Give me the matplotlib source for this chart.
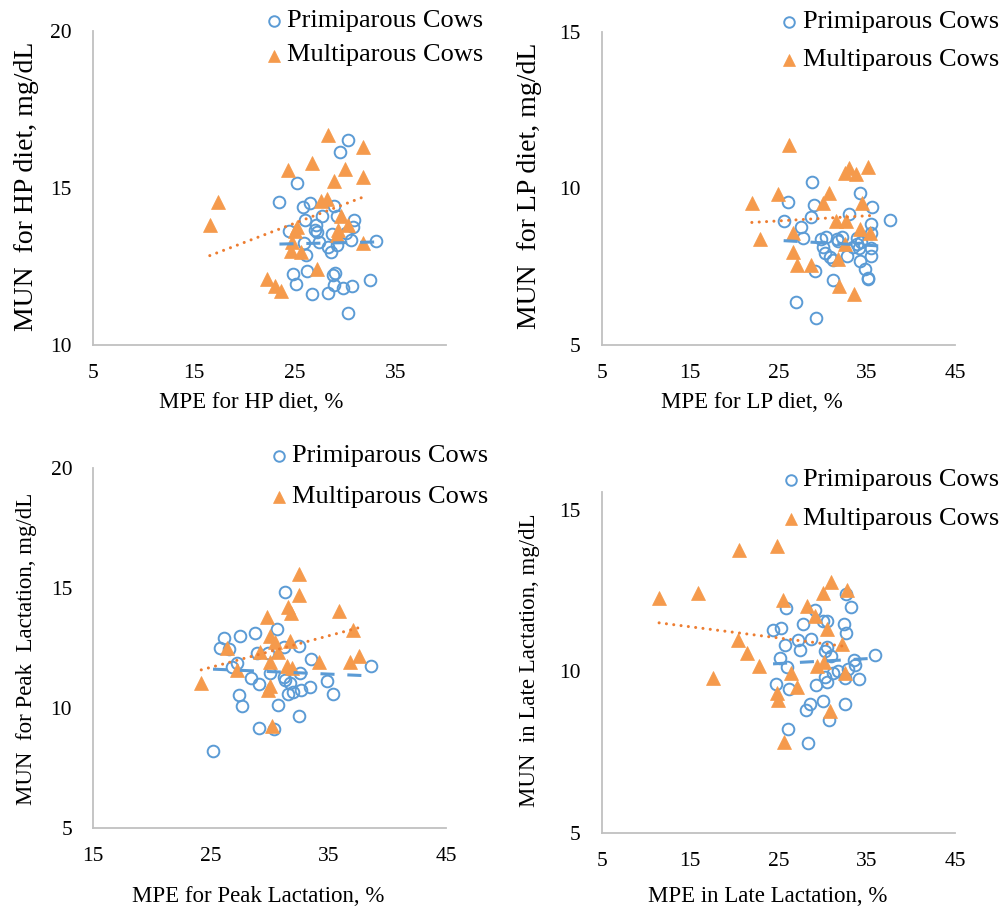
import numpy as np
import matplotlib
matplotlib.use("Agg")
import matplotlib.pyplot as plt
from matplotlib.lines import Line2D

plt.rcParams['font.family'] = ['Liberation Serif', 'DejaVu Serif']

# ---------------- data ----------------
# Panel 1: HP diet
hp_prim_x = [30.3, 29.5, 25.2, 23.5, 25.8, 26.5, 28.9, 26.0, 27.7, 27.1, 27.0, 27.2, 29.2, 30.9, 30.8,
             24.4, 28.7, 30.1, 30.6, 25.9, 27.4, 28.3, 28.6, 26.1, 33.1, 29.2, 24.8, 26.2, 29.0, 28.8,
             25.1, 28.9, 29.8, 30.7, 32.5, 26.7, 28.3, 30.3]
hp_prim_y = [16.53, 16.15, 15.15, 14.55, 14.38, 14.51, 14.43, 13.98, 14.11, 13.82, 13.66, 13.61, 14.11, 13.98, 13.75,
             13.64, 13.52, 13.56, 13.34, 13.24, 13.29, 13.13, 12.96, 12.87, 13.32, 13.18, 12.26, 12.37, 12.30, 12.22,
             11.94, 11.91, 11.80, 11.89, 12.07, 11.63, 11.65, 11.03]
hp_multi_x = [28.3, 31.8, 26.7, 24.3, 30.0, 28.9, 31.8, 17.4, 27.6, 28.2, 16.6, 29.6, 25.2, 30.3, 29.3,
              29.2, 25.0, 24.7, 31.8, 24.6, 25.6, 27.2, 22.3, 23.1, 23.7]
hp_multi_y = [16.69, 16.30, 15.81, 15.57, 15.59, 15.23, 15.36, 14.56, 14.60, 14.64, 13.81, 14.11, 13.77, 13.81, 13.66,
              13.50, 13.64, 13.29, 13.26, 13.00, 12.97, 12.43, 12.11, 11.88, 11.73]
hp_prim_trend = [0.007, 13.05]      # slope, intercept
hp_multi_trend = [0.1227, 10.81]

# Panel 2: LP diet
lp_prim_x = [28.85, 26.1, 29.0, 34.2, 35.6, 33.0, 28.7, 25.6, 37.6, 27.6, 35.5, 35.5, 27.8, 29.8, 30.4,
             31.6, 32.2, 33.9, 30.0, 30.3, 30.8, 31.2, 31.8, 32.8, 34.1, 34.4, 35.5, 35.5, 34.2, 34.8,
             35.2, 35.1, 29.1, 31.2, 27.0, 29.3, 33.9, 33.4]
lp_prim_y = [10.21, 9.55, 9.47, 9.84, 9.39, 9.18, 9.10, 8.96, 8.99, 8.78, 8.86, 8.56, 8.40, 8.37, 8.44,
             8.37, 8.44, 8.40, 8.14, 7.95, 7.82, 7.71, 8.33, 7.84, 8.09, 8.30, 8.09, 7.84, 7.69, 7.41,
             7.13, 7.10, 7.37, 7.07, 6.38, 5.87, 8.22, 8.12]
lp_multi_x = [26.2, 35.2, 33.0, 32.5, 33.8, 25.0, 22.0, 30.7, 30.1, 34.5, 31.5, 32.7, 34.2, 35.4, 22.9,
              26.7, 32.5, 26.7, 27.1, 28.7, 31.7, 31.9, 33.6]
lp_multi_y = [11.38, 10.67, 10.66, 10.48, 10.46, 9.81, 9.54, 9.86, 9.52, 9.54, 8.97, 8.97, 8.69, 8.56, 8.37,
              8.56, 8.21, 7.96, 7.55, 7.55, 7.73, 6.88, 6.63]
lp_prim_trend = [-0.0155, 8.727]
lp_multi_trend = [0.0163, 8.553]

# Panel 3: Peak lactation
pk_prim_x = [31.3, 30.6, 26.1, 27.5, 28.8, 25.8, 26.6, 28.9, 29.9, 31.2, 32.5, 27.2, 26.8, 33.5, 30.0,
             32.6, 38.6, 28.4, 29.1, 31.2, 31.7, 31.3, 27.4, 34.9, 31.6, 32.0, 32.7, 33.4, 35.4, 27.7,
             30.7, 32.5, 29.1, 30.4, 25.2]
pk_prim_y = [14.82, 13.28, 12.91, 13.00, 13.11, 12.49, 12.45, 12.28, 12.28, 12.53, 12.60, 11.89, 11.69, 12.05, 11.48,
             11.45, 11.77, 11.27, 11.01, 11.28, 11.06, 11.17, 10.53, 11.12, 10.59, 10.66, 10.76, 10.87, 10.59, 10.09,
             10.12, 9.67, 9.19, 9.12, 8.22]
pk_multi_x = [32.5, 32.5, 31.6, 31.8, 35.9, 29.8, 30.0, 30.5, 31.7, 37.1, 26.4, 29.2, 30.7, 30.0, 31.5,
              31.9, 34.2, 36.8, 37.6, 27.2, 24.2, 30.0, 29.9, 30.2]
pk_multi_y = [15.58, 14.71, 14.22, 13.97, 14.02, 13.81, 12.98, 12.77, 12.81, 13.25, 12.49, 12.32, 12.32, 11.91, 11.77,
              11.66, 11.93, 11.93, 12.17, 11.59, 11.03, 10.92, 10.76, 9.27]
pk_prim_trend = [-0.0209, 12.147]
pk_multi_trend = [0.131, 8.42]

# Panel 4: Late lactation
lt_prim_x = [25.9, 29.2, 32.7, 33.2, 30.0, 30.5, 27.8, 32.4, 24.4, 25.3, 32.7, 27.2, 28.7, 25.8, 27.4,
             30.5, 30.3, 31.0, 25.2, 35.9, 33.6, 33.7, 26.0, 32.9, 31.7, 31.2, 30.3, 32.6, 34.1, 30.5,
             29.3, 24.7, 26.2, 28.6, 28.1, 30.1, 32.5, 30.7, 26.1, 28.4]
lt_prim_y = [11.95, 11.90, 12.40, 11.98, 11.56, 11.56, 11.46, 11.48, 11.28, 11.33, 11.20, 10.96, 11.01, 10.83, 10.66,
             10.75, 10.63, 10.47, 10.42, 10.52, 10.36, 10.21, 10.15, 10.08, 10.00, 9.95, 9.84, 9.79, 9.76, 9.66,
             9.58, 9.61, 9.46, 8.99, 8.79, 9.08, 9.00, 8.51, 8.21, 7.77]
lt_multi_x = [24.9, 20.6, 31.0, 32.8, 30.0, 11.5, 15.9, 25.5, 28.2, 29.1, 30.5, 32.2, 20.4, 21.5, 22.8,
              17.6, 29.4, 30.2, 26.4, 32.6, 27.1, 24.8, 25.0, 30.8, 25.6]
lt_multi_y = [13.88, 13.75, 12.76, 12.52, 12.44, 12.27, 12.42, 12.21, 12.03, 11.72, 11.30, 10.85, 10.97, 10.57, 10.16,
              9.79, 10.18, 10.28, 9.95, 9.95, 9.53, 9.32, 9.11, 8.77, 7.83]
lt_prim_trend = [0.0152, 9.862]
lt_multi_trend = [-0.0346, 11.90]

legend_labels = ["Primiparous Cows", "Multiparous Cows"]

xlabels = ["MPE for HP diet, %", "MPE for LP diet, %", "MPE for Peak Lactation, %", "MPE in Late Lactation, %"]
ylabels = ["MUN  for HP diet, mg/dL", "MUN  for LP diet, mg/dL",
           "MUN  for Peak  Lactation, mg/dL", "MUN  in Late Lactation, mg/dL"]
xlims = [(5, 40), (5, 45), (15, 45), (5, 45)]
xticks = [[5, 15, 25, 35], [5, 15, 25, 35, 45], [15, 25, 35, 45], [5, 15, 25, 35, 45]]
ylims = [(10, 20), (5, 15), (5, 20), (5, 15.55)]
yticks = [[10, 15, 20], [5, 10, 15], [5, 10, 15, 20], [5, 10, 15]]

panels = [(hp_prim_x, hp_prim_y, hp_multi_x, hp_multi_y, hp_prim_trend, hp_multi_trend),
          (lp_prim_x, lp_prim_y, lp_multi_x, lp_multi_y, lp_prim_trend, lp_multi_trend),
          (pk_prim_x, pk_prim_y, pk_multi_x, pk_multi_y, pk_prim_trend, pk_multi_trend),
          (lt_prim_x, lt_prim_y, lt_multi_x, lt_multi_y, lt_prim_trend, lt_multi_trend)]

# ---------------- layout (pixel boxes) ----------------
W, H = 1004, 911
boxes = [(92.7, 446, 31, 345), (601.7, 955, 31.7, 345), (93, 446, 467.7, 828.3), (601.7, 955, 492, 833)]
xlabel_pos = [(251, 403), (752, 403), (258, 896), (768, 897)]
ylabel_pos = [(27, 186), (530, 186), (27, 649), (530, 660)]
ylabel_size = [20, 20, 16.5, 16.5]
# legend: marker x, text x, row1 y, row2 y
legend_pos = [(274, 287, 20.7, 55.5), (789, 803, 21.7, 60), (279, 292, 456, 497), (791, 803, 480, 519)]

BLUE = '#5b9bd5'
ORANGE_M = '#f59a4c'
ORANGE_L = '#ed7d31'
SPINE = '#c0c0c0'

fig = plt.figure(figsize=(W / 100, H / 100), dpi=100)

for i, (px, py, mx, my, tp, tm) in enumerate(panels):
    l, r, t, b = boxes[i]
    ax = fig.add_axes([l / W, 1 - b / H, (r - l) / W, (b - t) / H])
    px, py, mx, my = map(np.asarray, (px, py, mx, my))
    ax.plot(px, py, linestyle='none', marker='o', markersize=8.4, markerfacecolor='none',
            markeredgecolor=BLUE, markeredgewidth=1.4, zorder=3)
    ax.plot(mx, my, linestyle='none', marker='^', markersize=9.5, markerfacecolor=ORANGE_M,
            markeredgecolor=ORANGE_M, markeredgewidth=0.5, zorder=3)
    # trend lines (linear, spanning the series' x range)
    xs = np.array([px.min(), px.max()])
    ax.plot(xs, np.polyval(tp, xs), color=BLUE, linewidth=2.2, linestyle=(0, (4.6, 4.2)),
            dash_capstyle='butt', zorder=4)
    xs = np.array([mx.min(), mx.max()])
    ax.plot(xs, np.polyval(tm, xs), color=ORANGE_L, linewidth=2.2, linestyle=(0, (0.01, 2.4)),
            dash_capstyle='round', zorder=4)

    ax.set_xlim(*xlims[i])
    ax.set_ylim(*ylims[i])
    ax.set_xticks(xticks[i])
    ax.set_yticks(yticks[i])
    for s in ['top', 'right']:
        ax.spines[s].set_visible(False)
    for s in ['left', 'bottom']:
        ax.spines[s].set_color(SPINE)
        ax.spines[s].set_linewidth(1.3)
    ax.tick_params(axis='both', length=0, labelsize=15.5, colors='black')
    ax.tick_params(axis='x', pad=13.5)
    ax.tick_params(axis='y', pad=15)
    ax.patch.set_alpha(0)

    fig.text(xlabel_pos[i][0] / W, 1 - xlabel_pos[i][1] / H, xlabels[i], ha='center', va='center',
             fontsize=16.5)
    fig.text(ylabel_pos[i][0] / W, 1 - ylabel_pos[i][1] / H, ylabels[i], ha='center', va='center',
             rotation=90, fontsize=ylabel_size[i])

    # legend (drawn in figure coordinates above each panel)
    mxp, txp, r1, r2 = legend_pos[i]
    fig.add_artist(Line2D([mxp / W], [1 - r1 / H], linestyle='none', marker='o', markersize=7.6,
                          markerfacecolor='none', markeredgecolor=BLUE, markeredgewidth=1.4,
                          transform=fig.transFigure))
    fig.add_artist(Line2D([mxp / W], [1 - r2 / H], linestyle='none', marker='^', markersize=9,
                          markerfacecolor=ORANGE_M, markeredgecolor=ORANGE_M, markeredgewidth=0.5,
                          transform=fig.transFigure))
    fig.text(txp / W, 1 - r1 / H, legend_labels[0], ha='left', va='center', fontsize=19)
    fig.text(txp / W, 1 - r2 / H, legend_labels[1], ha='left', va='center', fontsize=19)

fig.savefig('out.png', dpi=100)
